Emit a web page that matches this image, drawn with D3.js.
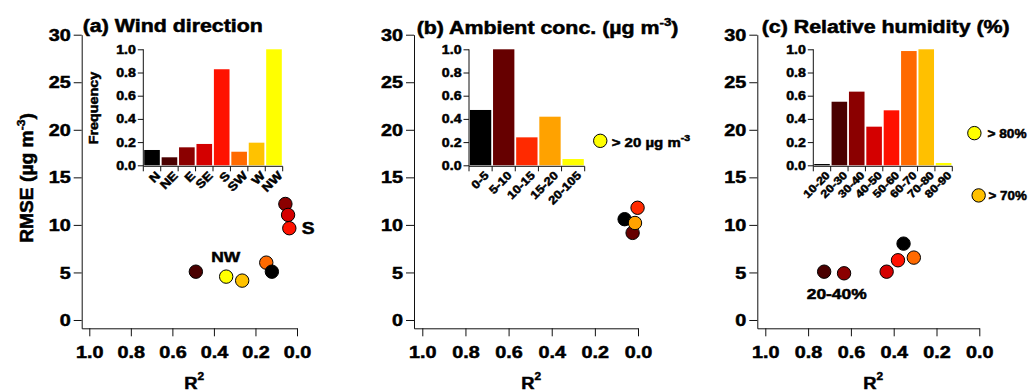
<!DOCTYPE html>
<html>
<head>
<meta charset="utf-8">
<script src="https://cdn.jsdelivr.net/npm/d3@7"></script>
<style>
  html, body { margin: 0; padding: 0; background: #fff; }
  svg { display: block; }
  text { font-family: 'Liberation Sans', Arial, Helvetica, sans-serif; font-weight: bold; fill: #000; stroke: #000; stroke-width: 0.5px; }
</style>
</head>
<body>
<svg id="chart" width="1030" height="392"></svg>
<script>
// ---- data -------------------------------------------------------------
const windDirs   = ["N", "NE", "E", "SE", "S", "SW", "W", "NW"];
const windColors = ["#000000", "#4a0000", "#8b0000", "#d40000", "#ff1200", "#ff6a00", "#ffc200", "#ffff00"];
const windFreq   = [0.132, 0.069, 0.155, 0.184, 0.828, 0.117, 0.195, 1.0];
const windR2     = [0.121, 0.487, 0.056, 0.043, 0.037, 0.148, 0.264, 0.341];
const windRMSE   = [5.08, 5.08, 12.2, 11.05, 9.65, 6.03, 4.14, 4.56];

const concBins   = ["0-5", "5-10", "10-15", "15-20", "20-105"];
const concColors = ["#000000", "#660000", "#ff2a00", "#ffa200", "#ffff00"];
const concFreq   = [0.477, 1.0, 0.241, 0.419, 0.054];
const concR2     = [0.062, 0.025, 0.002, 0.014, 0.175];
const concRMSE   = [10.6, 9.16, 11.8, 10.2, 18.84];

const rhBins     = ["10-20", "20-30", "30-40", "40-50", "50-60", "60-70", "70-80", "80-90"];
const rhColors   = ["#000000", "#4a0000", "#8b0000", "#d40000", "#ff1000", "#ff6a00", "#ffc000", "#ffff00"];
const rhFreq     = [0.011, 0.548, 0.635, 0.333, 0.474, 0.985, 1.0, 0.02];
const rhR2       = [0.354, 0.725, 0.632, 0.433, 0.38, 0.306, 0.003, 0.023];
const rhRMSE     = [8.03, 5.08, 4.91, 5.08, 6.28, 6.56, 13.1, 19.65];

const rmseTicks  = [0, 5, 10, 15, 20, 25, 30];
const r2Ticks    = [0, 0.2, 0.4, 0.6, 0.8, 1.0];
const freqTicks  = [0, 0.2, 0.4, 0.6, 0.8, 1.0];

// ---- layout ------------------------------------------------------------
const svg = d3.select("#chart");
const WIDE = 1.2;                // horizontal stretch of the bold face
const fmt1 = d3.format(".1f");

// stretch text horizontally about its anchor x
function stretch(sel, s) {
  sel.each(function () {
    const t = d3.select(this);
    const x = +t.attr("x") || 0;
    t.attr("transform", `translate(${x},0) scale(${s},1) translate(${-x},0)`);
  });
}

const yMain = d3.scaleLinear().domain([-0.874, 30]).range([328.3, 34.7]);

const panels = [
  {
    key: "a", left: 81.7, right: 297, xMax: 1.0366,
    title: [{ t: "(a) Wind direction" }], titleX: 82.7, titleY: 32,
    cats: windDirs, colors: windColors, freq: windFreq, r2: windR2, rmse: windRMSE,
    inset: { x0: 143.3, x1: 282.7 }, catFont: 12, topIndex: 0
  },
  {
    key: "b", left: 414, right: 638, xMax: 1.0385,
    title: [{ t: "(b) Ambient conc. (µg m" }, { t: "-3", sup: true }, { t: ")", down: true }], titleX: 416.7, titleY: 34,
    cats: concBins, colors: concColors, freq: concFreq, r2: concR2, rmse: concRMSE,
    inset: { x0: 469, x1: 584.7 }, catFont: 11.5, topIndex: -1
  },
  {
    key: "c", left: 757.3, right: 979.3, xMax: 1.0374,
    title: [{ t: "(c) Relative humidity (%)" }], titleX: 761.7, titleY: 33.5,
    cats: rhBins, colors: rhColors, freq: rhFreq, r2: rhR2, rmse: rhRMSE,
    inset: { x0: 813.3, x1: 952.3 }, catFont: 11, topIndex: -1
  }
];

const yInset = d3.scaleLinear().domain([0, 1]).range([165.3, 49.3]);
const insetAxisY = 166.3;

panels.forEach(p => {
  const g = svg.append("g").attr("class", "panel-" + p.key);
  const x = d3.scaleLinear().domain([p.xMax, 0]).range([p.left, p.right]);

  // main axes
  const ya = g.append("g").attr("transform", `translate(${p.left},0)`)
    .call(d3.axisLeft(yMain).tickValues(rmseTicks).tickSize(8).tickSizeOuter(0).tickPadding(3));
  ya.selectAll("text").attr("font-size", 16.5).attr("dy", "0.34em");
  stretch(ya.selectAll("text"), WIDE);

  const xa = g.append("g").attr("transform", `translate(0,${yMain.range()[0]})`)
    .call(d3.axisBottom(x).tickValues(r2Ticks).tickFormat(fmt1).tickSize(8).tickSizeOuter(0).tickPadding(10));
  xa.selectAll("text").attr("font-size", 16.5);
  stretch(xa.selectAll("text"), WIDE);
  g.selectAll(".domain, .tick line").attr("stroke", "#111").attr("stroke-width", 1);

  // x axis title R²
  const xt = g.append("text").attr("x", (x(1) + x(0)) / 2 + 1).attr("y", 389)
    .attr("text-anchor", "middle").attr("font-size", 17);
  xt.append("tspan").text("R");
  xt.append("tspan").attr("font-size", 11).attr("dy", -9).text("2");
  stretch(xt, 1.08);

  // panel title
  const tt = g.append("text").attr("x", p.titleX).attr("y", p.titleY).attr("font-size", 17.8);
  p.title.forEach(s => {
    const ts = tt.append("tspan").text(s.t);
    if (s.sup) ts.attr("font-size", 11).attr("dy", -8);
    if (s.down) ts.attr("dy", 8);
  });
  stretch(tt, WIDE);

  // inset histogram
  const ig = g.append("g").attr("class", "inset");
  const xb = d3.scaleBand().domain(p.cats).range([p.inset.x0, p.inset.x1]).padding(0);
  const bw = xb.bandwidth();

  ig.selectAll("rect").data(p.cats).join("rect")
    .attr("x", d => xb(d) + 0.9)
    .attr("width", bw - 1.8)
    .attr("y", (d, i) => yInset(p.freq[i]))
    .attr("height", (d, i) => yInset(0) - yInset(p.freq[i]))
    .attr("fill", (d, i) => p.colors[i]);

  const iya = ig.append("g").attr("transform", `translate(${p.inset.x0},0)`)
    .call(d3.axisLeft(yInset).tickValues(freqTicks).tickFormat(fmt1).tickSize(5.5).tickSizeOuter(0).tickPadding(2));
  iya.select(".domain").attr("d", `M0,${yInset(1)}V${insetAxisY}`);
  iya.selectAll("text").attr("font-size", 12).attr("dy", "0.34em");
  stretch(iya.selectAll("text"), 1.18);

  // inset category axis: baseline and boundary ticks
  ig.append("line").attr("x1", p.inset.x0).attr("x2", p.inset.x1)
    .attr("y1", insetAxisY).attr("y2", insetAxisY);
  const bounds = p.cats.map(c => xb(c)).concat([p.inset.x1]);
  ig.selectAll("line.bt").data(bounds).join("line").attr("class", "bt")
    .attr("x1", d => d).attr("x2", d => d)
    .attr("y1", insetAxisY).attr("y2", insetAxisY + 5);
  ig.selectAll("line").attr("stroke", "#111").attr("stroke-width", 1);
  iya.selectAll(".domain, .tick line").attr("stroke", "#111");

  ig.selectAll("text.cat").data(p.cats).join("text").attr("class", "cat")
    .attr("text-anchor", "end").attr("font-size", p.catFont).attr("dy", "0.72em")
    .attr("transform", d => `translate(${xb(d) + bw / 2 + 3},${insetAxisY + 4}) rotate(-45) scale(1.15,1)`)
    .text(d => d);

  // scatter points
  const pts = g.append("g").selectAll("circle").data(p.cats).join("circle")
    .attr("cx", (d, i) => x(p.r2[i]))
    .attr("cy", (d, i) => yMain(p.rmse[i]))
    .attr("r", 6.7)
    .attr("fill", (d, i) => p.colors[i])
    .attr("stroke", "#000").attr("stroke-width", 1);
  if (p.topIndex >= 0) pts.filter((d, i) => i === p.topIndex).raise();
});

// ---- y axis title (panel a) -----------------------------------------------
const yl = svg.append("text").attr("text-anchor", "middle").attr("font-size", 17.5)
  .attr("transform", "translate(33,178) rotate(-90) scale(1.1,1)");
yl.append("tspan").text("RMSE (µg m");
yl.append("tspan").attr("font-size", 11).attr("dy", -8).text("-3");
yl.append("tspan").attr("dy", 8).text(")");

// inset y label (panel a)
svg.append("text").attr("text-anchor", "middle").attr("font-size", 12.5)
  .attr("transform", "translate(97.5,108) rotate(-90) scale(1.15,1)")
  .text("Frequency");

// ---- point annotations ---------------------------------------------------
function note(txt, x, y, size, anchor, s) {
  const t = svg.append("text").attr("x", x).attr("y", y).attr("font-size", size)
    .attr("text-anchor", anchor || "start");
  txt.forEach(part => {
    const ts = t.append("tspan").text(part.t);
    if (part.sup) ts.attr("font-size", size * 0.7).attr("dy", -6);
  });
  stretch(t, s || WIDE);
  return t;
}
note([{ t: "S" }], 301.7, 234.3, 16);
note([{ t: "NW" }], 225.8, 262.3, 14.5, "middle");
note([{ t: "> 20 µg m" }, { t: "-3", sup: true }], 611.7, 147.5, 12.5);
note([{ t: "> 80%" }], 987.5, 138.5, 13, "start", 1.05);
note([{ t: "> 70%" }], 988.5, 200.3, 13, "start", 1.03);
note([{ t: "20-40%" }], 836.7, 299, 14.5, "middle");
</script>
</body>
</html>
